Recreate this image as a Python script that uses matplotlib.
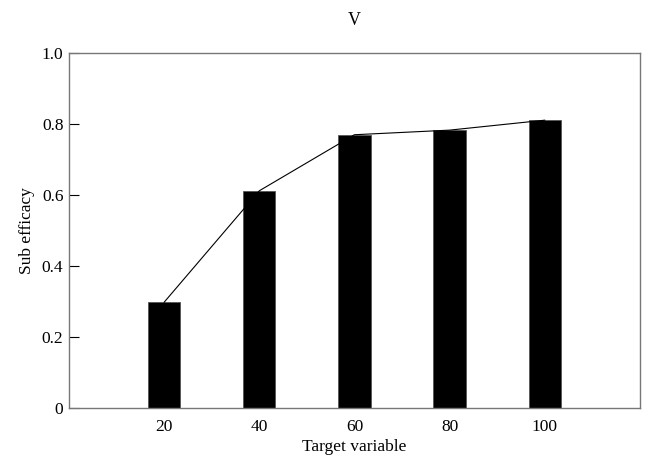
import matplotlib.pyplot as plt
import numpy as np

# data
targets = [20, 40, 60, 80, 100]
efficacy = [0.298, 0.612, 0.770, 0.783, 0.811]
yticks = [0, 0.2, 0.4, 0.6, 0.8, 1.0]
ytick_labels = ["0", "0.2", "0.4", "0.6", "0.8", "1.0"]

plt.rcParams['font.family'] = ['Liberation Serif', 'DejaVu Serif']
plt.rcParams['font.size'] = 12.5

fig = plt.figure(figsize=(6.45, 4.62), dpi=100)
ax = fig.add_axes([0.107, 0.117, 0.885, 0.768])

ax.bar(targets, efficacy, width=6.8, color='black', edgecolor='#555555', linewidth=0.6, zorder=2)
ax.plot(targets, efficacy, color='black', linewidth=0.8, zorder=3)

ax.set_xlim(0, 120)
ax.set_ylim(0, 1.0)
ax.set_xticks(targets)
ax.set_yticks(yticks)
ax.set_yticklabels(ytick_labels)
ax.tick_params(axis='x', length=0, pad=8)
ax.tick_params(axis='y', direction='in', length=7, width=0.8, pad=4)

for s in ax.spines.values():
    s.set_color('#777777')
    s.set_linewidth(1.0)

ax.set_xlabel('Target variable', labelpad=3)
ax.set_ylabel('Sub efficacy', labelpad=5)
ax.set_title('V', fontsize=13, pad=20)

plt.savefig("out.png", dpi=100)
